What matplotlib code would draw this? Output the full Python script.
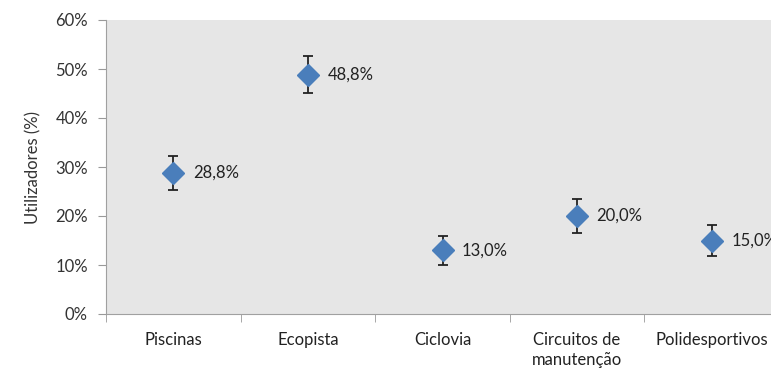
import matplotlib
matplotlib.use("Agg")
import matplotlib.pyplot as plt
import numpy as np

# data
categorias = ["Piscinas", "Ecopista", "Ciclovia", "Circuitos de\nmanutenção", "Polidesportivos"]
valores = [28.8, 48.8, 13.0, 20.0, 15.0]
erros = [3.5, 3.8, 2.9, 3.4, 3.1]
rotulos = ["28,8%", "48,8%", "13,0%", "20,0%", "15,0%"]

plt.rcParams['font.family'] = ['Lato', 'DejaVu Sans']

fig = plt.figure(figsize=(7.71, 3.70), dpi=100)
ax = fig.add_axes([106/771, 1-314/370, 673/771, 294/370])
ax.set_facecolor("#e6e6e6")

x = np.arange(len(categorias))
ax.errorbar(x, valores, yerr=erros, fmt='D', color='#4a7ebb', markersize=11,
            ecolor='#222222', elinewidth=1.3, capsize=3.5, capthick=1.3, zorder=3)
for xi, v, r in zip(x, valores, rotulos):
    ax.annotate(r, (xi, v), xytext=(14, 0), textcoords='offset points',
                va='center', ha='left', fontsize=12, color='#222222')

ax.set_xlim(-0.5, 4.5)
ax.set_ylim(0, 60)
ax.set_yticks(np.arange(0, 61, 10))
ax.set_yticklabels([f"{t}%" for t in range(0, 61, 10)], fontsize=12, color='#333333')
ax.set_xticks(x)
ax.set_xticklabels(categorias, fontsize=12, color='#222222', linespacing=1.3)
ax.set_xticks(np.arange(-0.5, 4.6, 1), minor=True)
ax.tick_params(axis='x', which='major', length=0, pad=13)
ax.tick_params(axis='x', which='minor', length=6, color='#999999')
ax.tick_params(axis='y', length=6, color='#999999', pad=7)
for s in ['top', 'right']:
    ax.spines[s].set_visible(False)
for s in ['left', 'bottom']:
    ax.spines[s].set_color('#a0a0a0')
ax.set_ylabel("Utilizadores (%)", fontsize=12, color='#333333', labelpad=10)

fig.savefig("out.png", dpi=100)
